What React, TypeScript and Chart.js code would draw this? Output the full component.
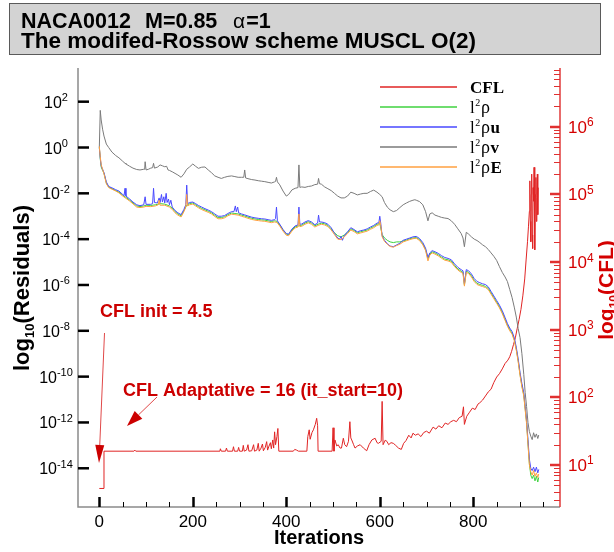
import React, { useEffect, useRef } from "react";
import { Chart, registerables } from "chart.js";

Chart.register(...registerables);

type Pt = [number, number];

// ---------------- data (iteration, log10 value) ----------------
const cflLog10: Pt[] = [
  [0, 0.653], [10, 0.653], [10, 1.204], [74, 1.204], [76, 1.22], [78, 1.204], [258, 1.204], [259, 1.24], [261, 1.204],
  [270, 1.204], [272, 1.25], [274, 1.204], [285, 1.204], [287, 1.27], [289, 1.204], [296, 1.204], [298, 1.26], [300, 1.204],
  [306, 1.204], [308, 1.29], [310, 1.204], [315, 1.22], [318, 1.3], [320, 1.204], [326, 1.21], [330, 1.3], [332, 1.204],
  [337, 1.22], [340, 1.32], [342, 1.204], [346, 1.25], [349, 1.31], [351, 1.21], [355, 1.26], [358, 1.345], [360, 1.22],
  [363, 1.28], [366, 1.33], [368, 1.24], [371, 1.37], [373, 1.25], [375, 1.49], [377, 1.3], [380, 1.42], [382, 1.54],
  [384, 1.204], [415, 1.204], [418, 1.23], [422, 1.22], [426, 1.204], [444, 1.204], [446, 1.42], [449, 1.52], [451, 1.38],
  [455, 1.48], [458, 1.52], [462, 1.6], [465, 1.69], [467, 1.58], [468, 1.204], [498, 1.204], [500, 1.55], [502, 1.204],
  [504, 1.37], [508, 1.28], [511, 1.3], [515, 1.25], [518, 1.25], [522, 1.395], [525, 1.3], [529, 1.27], [533, 1.35],
  [536, 1.64], [538, 1.4], [540, 1.37], [544, 1.3], [547, 1.25], [552, 1.28], [558, 1.3], [565, 1.25], [572, 1.21],
  [577, 1.3], [583, 1.37], [590, 1.395], [594, 1.33], [597, 1.32], [603, 1.35], [605, 1.94], [607, 1.3], [612, 1.37],
  [616, 1.34], [619, 1.3], [624, 1.33], [629, 1.32], [634, 1.29], [640, 1.25], [646, 1.23], [651, 1.32], [656, 1.36],
  [662, 1.44], [667, 1.4], [671, 1.47], [676, 1.44], [682, 1.46], [688, 1.42], [694, 1.48], [700, 1.5], [706, 1.47],
  [714, 1.56], [720, 1.53], [726, 1.58], [733, 1.55], [740, 1.62], [746, 1.6], [752, 1.64], [758, 1.66], [764, 1.64],
  [770, 1.7], [776, 1.72], [779, 1.86], [781, 1.6], [786, 1.72], [792, 1.78], [798, 1.84], [804, 1.82], [810, 1.9],
  [814, 1.92], [820, 1.96], [826, 2.02], [832, 2.08], [838, 2.12], [844, 2.22], [850, 2.3], [856, 2.35], [862, 2.42],
  [868, 2.5], [874, 2.55], [878, 2.6], [882, 2.68], [886, 2.78], [890, 2.88], [894, 3.02], [898, 3.15], [902, 3.3],
  [906, 3.5], [910, 3.75], [913, 4.03], [916, 4.3], [918, 4.52], [920, 4.75], [921, 5.2], [922, 4.6], [923, 4.3],
  [924, 5.0], [925, 5.3], [926, 4.4], [927, 4.2], [928, 5.1], [929, 4.9], [930, 5.4], [931, 4.5], [932, 4.18],
  [933, 5.0], [934, 5.25], [935, 4.6], [936, 4.95], [937, 5.3], [938, 4.7], [939, 5.1],
];

const rhoLog10: Pt[] = [
  [0, 0.0], [2, -0.5], [4, -0.85], [7, -1.0], [10, -1.12], [15, -1.55], [20, -1.72], [27, -1.8], [35, -1.88], [42, -1.95],
  [50, -2.08], [57, -2.18], [65, -2.3], [72, -2.42], [80, -2.55], [87, -2.58], [95, -2.55], [100, -2.52], [110, -2.53],
  [120, -2.5], [130, -2.45], [140, -2.47], [150, -2.55], [156, -2.65], [162, -2.8], [168, -2.9], [175, -2.98], [181, -2.75],
  [187, -2.52], [193, -2.45], [200, -2.42], [206, -2.5], [212, -2.58], [219, -2.66], [226, -2.72], [233, -2.78], [240, -2.85],
  [247, -2.96], [254, -3.06], [261, -3.06], [268, -3.02], [275, -2.93], [283, -2.86], [290, -2.88], [297, -2.9], [304, -2.95],
  [311, -2.99], [318, -3.04], [326, -3.09], [333, -3.12], [340, -3.14], [347, -3.16], [354, -3.17], [361, -3.2], [368, -3.23],
  [375, -3.2], [380, -3.22], [386, -3.38], [393, -3.6], [400, -3.78], [405, -3.8], [412, -3.6], [419, -3.46], [426, -3.42],
  [433, -3.39], [440, -3.3], [447, -3.24], [454, -3.3], [461, -3.42], [468, -3.35], [475, -3.3], [482, -3.33], [489, -3.4],
  [496, -3.55], [503, -3.72], [510, -3.85], [517, -3.9], [524, -3.82], [531, -3.7], [538, -3.55], [545, -3.62], [552, -3.72],
  [559, -3.68], [566, -3.64], [573, -3.6], [580, -3.52], [587, -3.45], [594, -3.35], [600, -3.32], [605, -3.8], [610, -3.95],
  [616, -4.05], [622, -4.12], [629, -4.15], [636, -4.12], [643, -4.12], [650, -4.08], [657, -4.04], [664, -3.98], [671, -3.95],
  [678, -3.93], [685, -4.02], [692, -4.2], [698, -4.45], [703, -4.85], [707, -4.65], [712, -4.55], [718, -4.6], [725, -4.68],
  [732, -4.78], [739, -4.87], [746, -4.9], [753, -4.96], [760, -5.15], [767, -5.3], [774, -5.4], [778, -5.45], [781, -6.0],
  [785, -5.4], [790, -5.45], [796, -5.6], [802, -5.8], [808, -5.93], [814, -5.98], [820, -6.02], [826, -6.06], [832, -6.15],
  [838, -6.35], [844, -6.55], [850, -6.75], [856, -6.95], [862, -7.2], [868, -7.5], [873, -7.75], [878, -7.95], [883, -8.1],
  [888, -8.4], [892, -8.8], [896, -9.3], [900, -9.9], [904, -10.4], [908, -10.8], [911, -11.4], [914, -12.0], [917, -12.9],
  [920, -13.8], [923, -14.3], [926, -14.45], [929, -14.3], [932, -14.55], [935, -14.35], [938, -14.6], [940, -14.4],
];

const rhoULog10: Pt[] = [
  [0, 0.0], [2, -0.45], [4, -0.8], [7, -0.95], [10, -1.1], [15, -1.5], [20, -1.7], [27, -1.76], [35, -1.84], [42, -1.9],
  [50, -2.05], [53, -2.1], [55, -1.78], [57, -2.12], [65, -2.25], [72, -2.38], [80, -2.5], [87, -2.54], [95, -2.5], [98, -2.15],
  [100, -2.48], [110, -2.48], [114, -2.45], [116, -1.78], [118, -2.4], [124, -2.42], [128, -2.2], [130, -2.4], [133, -2.05],
  [135, -2.38], [138, -2.15], [140, -2.42], [143, -2.0], [145, -2.4], [148, -2.25], [150, -2.5], [153, -2.3], [156, -2.6],
  [162, -2.75], [168, -2.85], [175, -2.93], [181, -2.7], [185, -2.5], [187, -1.64], [189, -2.45], [193, -2.4], [200, -2.38],
  [206, -2.45], [212, -2.53], [219, -2.6], [226, -2.67], [233, -2.73], [240, -2.8], [247, -2.9], [254, -3.0], [261, -3.0],
  [268, -2.97], [275, -2.88], [283, -2.8], [288, -2.8], [291, -2.55], [293, -2.8], [296, -2.6], [298, -2.85], [304, -2.9],
  [311, -2.94], [318, -2.99], [326, -3.04], [333, -3.07], [340, -3.09], [347, -3.11], [354, -3.12], [361, -3.15], [368, -3.18],
  [375, -3.15], [377, -3.1], [379, -2.6], [381, -3.2], [386, -3.35], [393, -3.58], [400, -3.76], [405, -3.78], [412, -3.56],
  [419, -3.42], [425, -3.38], [427, -2.6], [429, -3.35], [433, -3.34], [440, -3.25], [447, -3.19], [454, -3.25], [461, -3.37],
  [467, -3.3], [469, -2.95], [471, -3.25], [475, -3.25], [482, -3.28], [489, -3.35], [496, -3.5], [503, -3.75], [510, -3.95],
  [514, -4.0], [517, -3.88], [520, -4.05], [524, -3.85], [531, -3.68], [538, -3.5], [545, -3.58], [552, -3.68], [559, -3.63],
  [566, -3.6], [573, -3.55], [580, -3.47], [587, -3.4], [594, -3.3], [598, -3.28], [600, -3.0], [602, -3.3], [605, -3.85],
  [610, -4.05], [616, -4.2], [622, -4.3], [629, -4.33], [636, -4.25], [643, -4.18], [650, -4.05], [657, -4.0], [664, -3.95],
  [671, -3.9], [678, -3.88], [685, -3.97], [692, -4.15], [698, -4.4], [703, -4.8], [707, -4.6], [712, -4.5], [718, -4.55],
  [725, -4.62], [732, -4.72], [739, -4.8], [746, -4.84], [753, -4.9], [760, -5.08], [767, -5.23], [774, -5.33], [778, -5.38],
  [781, -5.95], [785, -5.33], [790, -5.38], [796, -5.52], [802, -5.72], [808, -5.85], [814, -5.9], [820, -5.95], [826, -5.98],
  [832, -6.08], [838, -6.28], [844, -6.48], [850, -6.68], [856, -6.88], [862, -7.12], [868, -7.42], [873, -7.68], [878, -7.88],
  [883, -8.03], [888, -8.33], [892, -8.72], [896, -9.22], [900, -9.82], [904, -10.3], [908, -10.7], [911, -11.3], [914, -11.9],
  [917, -12.75], [920, -13.6], [923, -14.0], [926, -14.1], [929, -13.95], [932, -14.15], [935, -13.95], [938, -14.2], [940, -14.05],
];

const rhoVLog10: Pt[] = [
  [0, 0.0], [2, 1.62], [4, 1.2], [7, 0.8], [10, 0.5], [15, 0.15], [20, 0.0], [27, -0.2], [35, -0.35], [42, -0.45], [50, -0.6],
  [55, -0.69], [57, -0.72], [65, -0.82], [72, -0.9], [80, -0.96], [87, -0.98], [95, -0.95], [97, -0.95], [98, -0.62], [100, -0.98],
  [105, -0.95], [110, -0.9], [114, -0.88], [116, -0.69], [118, -0.9], [125, -0.85], [130, -0.76], [135, -0.8], [140, -0.84],
  [144, -0.82], [147, -0.98], [150, -1.0], [156, -1.06], [162, -1.13], [168, -1.2], [175, -1.3], [181, -1.15], [187, -0.95],
  [193, -0.85], [200, -0.72], [206, -0.82], [212, -0.91], [219, -0.86], [226, -0.85], [233, -0.98], [240, -1.1], [247, -1.24],
  [254, -1.3], [261, -1.35], [268, -1.3], [275, -1.26], [283, -1.24], [290, -1.27], [297, -1.3], [304, -1.3], [309, -1.3],
  [311, -0.98], [313, -1.33], [318, -1.36], [326, -1.4], [333, -1.42], [340, -1.45], [347, -1.47], [354, -1.49], [361, -1.52],
  [368, -1.55], [375, -1.5], [377, -1.48], [379, -1.3], [381, -1.5], [386, -1.63], [393, -1.9], [400, -2.12], [405, -2.05],
  [412, -1.85], [419, -1.78], [425, -1.75], [427, -0.76], [429, -1.74], [433, -1.72], [440, -1.74], [447, -1.7], [454, -1.68],
  [461, -1.62], [467, -1.6], [469, -1.35], [471, -1.58], [475, -1.6], [482, -1.72], [489, -1.8], [496, -1.88], [503, -2.0],
  [510, -2.12], [517, -2.2], [524, -2.2], [531, -2.12], [538, -1.95], [545, -2.0], [552, -2.07], [559, -2.03], [566, -2.0],
  [573, -2.0], [580, -1.92], [587, -1.86], [594, -1.95], [600, -2.05], [605, -2.15], [610, -2.4], [616, -2.6], [622, -2.72],
  [629, -2.8], [636, -2.75], [643, -2.62], [650, -2.5], [657, -2.42], [664, -2.35], [671, -2.3], [675, -2.28], [678, -2.3],
  [685, -2.36], [692, -2.5], [698, -2.8], [703, -3.2], [707, -2.9], [712, -2.85], [718, -2.95], [725, -3.0], [732, -3.05],
  [739, -3.08], [746, -3.1], [753, -3.2], [760, -3.35], [767, -3.55], [774, -3.75], [778, -3.95], [781, -4.33], [785, -3.7],
  [790, -3.78], [796, -3.9], [802, -4.0], [808, -4.06], [814, -4.15], [820, -4.25], [826, -4.33], [832, -4.45], [838, -4.6],
  [844, -4.75], [850, -4.93], [856, -5.2], [862, -5.45], [868, -5.65], [873, -5.85], [878, -6.2], [883, -6.55], [888, -7.0],
  [892, -7.4], [896, -7.9], [900, -8.3], [904, -9.0], [908, -9.9], [911, -10.7], [914, -11.3], [917, -12.0], [920, -12.4],
  [923, -12.6], [926, -12.75], [929, -12.45], [932, -12.65], [935, -12.5], [938, -12.7], [940, -12.55],
];

const rhoELog10: Pt[] = [
  [0, 0.05], [2, -0.4], [4, -0.75], [7, -0.95], [10, -1.15], [15, -1.58], [20, -1.75], [27, -1.82], [35, -1.9], [42, -1.98],
  [50, -2.12], [57, -2.22], [65, -2.34], [72, -2.46], [80, -2.6], [87, -2.62], [95, -2.6], [100, -2.57], [110, -2.58],
  [120, -2.55], [126, -2.5], [128, -2.3], [130, -2.52], [140, -2.52], [150, -2.6], [156, -2.7], [162, -2.85], [168, -2.95],
  [175, -3.03], [181, -2.8], [185, -2.6], [187, -2.05], [189, -2.55], [193, -2.5], [200, -2.47], [206, -2.55], [212, -2.63],
  [219, -2.71], [226, -2.77], [233, -2.83], [240, -2.9], [247, -3.01], [254, -3.11], [261, -3.11], [268, -3.07], [275, -2.98],
  [283, -2.91], [290, -2.93], [297, -2.95], [304, -3.0], [311, -3.04], [318, -3.09], [326, -3.14], [333, -3.17], [340, -3.19],
  [347, -3.21], [354, -3.22], [361, -3.25], [368, -3.28], [375, -3.25], [380, -3.27], [386, -3.43], [393, -3.65], [400, -3.83],
  [405, -3.85], [412, -3.65], [419, -3.51], [425, -3.47], [427, -2.9], [429, -3.45], [433, -3.44], [440, -3.35], [447, -3.29],
  [454, -3.35], [461, -3.47], [468, -3.4], [475, -3.35], [482, -3.38], [489, -3.45], [496, -3.6], [503, -3.8], [510, -4.0],
  [517, -4.02], [524, -3.9], [531, -3.76], [538, -3.6], [545, -3.67], [552, -3.77], [559, -3.73], [566, -3.69], [573, -3.65],
  [580, -3.57], [587, -3.5], [594, -3.4], [598, -3.38], [600, -3.2], [602, -3.4], [605, -3.9], [610, -4.1], [616, -4.22],
  [622, -4.32], [629, -4.35], [636, -4.28], [643, -4.22], [650, -4.12], [657, -4.07], [664, -4.02], [671, -3.98], [678, -3.96],
  [685, -4.06], [692, -4.25], [698, -4.5], [703, -4.95], [707, -4.7], [712, -4.6], [718, -4.65], [725, -4.73], [732, -4.83],
  [739, -4.92], [746, -4.95], [753, -5.01], [760, -5.2], [767, -5.35], [774, -5.45], [778, -5.5], [781, -6.05], [785, -5.45],
  [790, -5.5], [796, -5.65], [802, -5.85], [808, -5.98], [814, -6.03], [820, -6.07], [826, -6.11], [832, -6.2], [838, -6.4],
  [844, -6.6], [850, -6.8], [856, -7.0], [862, -7.25], [868, -7.55], [873, -7.8], [878, -8.0], [883, -8.15], [888, -8.45],
  [892, -8.85], [896, -9.35], [900, -9.95], [904, -10.45], [908, -10.85], [911, -11.45], [914, -12.05], [917, -12.95],
  [920, -13.85], [923, -14.15], [926, -14.3], [929, -14.1], [932, -14.35], [935, -14.2], [938, -14.4], [940, -14.25],
];

// ---------------- axes / labels ----------------
const X_MIN = -45.6;
const X_MAX = 985.5;
const RES_LOG_MIN = -15.69;
const RES_LOG_MAX = 3.47;
const CFL_LOG_MIN = 0.379;
const CFL_LOG_MAX = 6.868;

const xMajorTicks = [0, 200, 400, 600, 800];
const xMinorStep = 50;
const resTickExps = [2, 0, -2, -4, -6, -8, -10, -12, -14];
const cflTickExps = [1, 2, 3, 4, 5, 6];

const titleLine1 = ["NACA0012", "M=0.85", "α", "=1"];
const titleLine2 = "The modifed-Rossow scheme MUSCL O(2)";
const xTitle = "Iterations";
const legendSuffixes = ["CFL", "", "u", "v", "E"];
const annotInit = "CFL init = 4.5";
const annotAdapt = "CFL Adaptative = 16 (it_start=10)";

const C_CFL = "#e02424";
const C_RHO = "#3fd23f";
const C_RHOU = "#4848ff";
const C_RHOV = "#7a7a7a";
const C_RHOE = "#ffa040";
const C_RED = "#cc0000";

const SANS = '"Liberation Sans", Arial, Helvetica, sans-serif';
const SERIF = '"Liberation Serif", "Times New Roman", serif';

const toXY = (arr: Pt[]) => arr.map(([it, e]) => ({ x: it, y: Math.pow(10, e) }));

type Seg = { t: string; f: string; dy?: number };

function richWidth(ctx: CanvasRenderingContext2D, segs: Seg[]) {
  let w = 0;
  for (const s of segs) {
    ctx.font = s.f;
    w += ctx.measureText(s.t).width;
  }
  return w;
}

function drawRich(ctx: CanvasRenderingContext2D, segs: Seg[], x: number, y: number, align: string) {
  const w = richWidth(ctx, segs);
  let cx = align === "left" ? x : align === "center" ? x - w / 2 : x - w;
  ctx.textAlign = "left";
  ctx.textBaseline = "alphabetic";
  for (const s of segs) {
    ctx.font = s.f;
    ctx.fillText(s.t, cx, y + (s.dy || 0));
    cx += ctx.measureText(s.t).width;
  }
}

function arrow(ctx: CanvasRenderingContext2D, x1: number, y1: number, x2: number, y2: number, len: number, half: number) {
  const a = Math.atan2(y2 - y1, x2 - x1);
  const bx = x2 - len * Math.cos(a);
  const by = y2 - len * Math.sin(a);
  ctx.strokeStyle = "#e04848";
  ctx.lineWidth = 1;
  ctx.beginPath();
  ctx.moveTo(x1, y1);
  ctx.lineTo(bx, by);
  ctx.stroke();
  ctx.fillStyle = C_RED;
  ctx.beginPath();
  ctx.moveTo(x2, y2);
  ctx.lineTo(bx + half * Math.sin(a), by - half * Math.cos(a));
  ctx.lineTo(bx - half * Math.sin(a), by + half * Math.cos(a));
  ctx.closePath();
  ctx.fill();
}

function pow10Label(exp: number, size: number, supSize: number): Seg[] {
  return [
    { t: "10", f: `${size}px ${SANS}` },
    { t: String(exp), f: `${supSize}px ${SANS}`, dy: -6.5 },
  ];
}

const decorPlugin = {
  id: "decor",
  afterDraw(chart: any) {
    const ctx: CanvasRenderingContext2D = chart.ctx;
    const { left, right, top, bottom } = chart.chartArea;
    const xs = chart.scales.x;
    const ys = chart.scales.y;
    const y2 = chart.scales.y2;
    const dsColors: string[] = chart.data.datasets.map((d: any) => d.borderColor);
    // legend order: CFL, rho, rho u, rho v, rho E
    const legendColors = [dsColors[4], dsColors[3], dsColors[2], dsColors[1], dsColors[0]];
    ctx.save();

    // title box
    ctx.fillStyle = "#d3d3d3";
    ctx.fillRect(9.5, 3.5, 591, 51);
    ctx.strokeStyle = "#5a5a5a";
    ctx.lineWidth = 1;
    ctx.strokeRect(9.5, 3.5, 591, 51);
    ctx.fillStyle = "#000";
    ctx.textAlign = "left";
    ctx.textBaseline = "alphabetic";
    ctx.font = `bold 21.5px ${SANS}`;
    ctx.fillText(titleLine1[0], 21, 28);
    ctx.fillText(titleLine1[1], 145, 28);
    ctx.font = `21px ${SANS}`;
    ctx.fillText(titleLine1[2], 233, 28);
    const aw = ctx.measureText(titleLine1[2]).width;
    ctx.font = `bold 21.5px ${SANS}`;
    ctx.fillText(titleLine1[3], 233 + aw + 1, 28);
    ctx.font = `bold 22.5px ${SANS}`;
    ctx.fillText(titleLine2, 21, 48);

    // axis lines
    ctx.lineWidth = 1.5;
    ctx.strokeStyle = "#8a8a8a";
    ctx.beginPath();
    ctx.moveTo(left, top);
    ctx.lineTo(left, bottom);
    ctx.lineTo(right, bottom);
    ctx.stroke();
    ctx.strokeStyle = "#e03a3a";
    ctx.beginPath();
    ctx.moveTo(right, top);
    ctx.lineTo(right, bottom);
    ctx.stroke();

    // x ticks
    ctx.strokeStyle = "#000";
    for (let v = 0; v <= X_MAX; v += xMinorStep) {
      const px = Math.round(xs.getPixelForValue(v)) + 0.5;
      const major = xMajorTicks.includes(v);
      ctx.lineWidth = major ? 2.5 : 1;
      ctx.beginPath();
      ctx.moveTo(px, bottom);
      ctx.lineTo(px, bottom - (major ? 10 : 5));
      ctx.stroke();
    }
    ctx.fillStyle = "#000";
    ctx.font = `17px ${SANS}`;
    ctx.textAlign = "center";
    for (const v of xMajorTicks) {
      ctx.fillText(String(v), xs.getPixelForValue(v), 527);
    }
    ctx.font = `bold 20px ${SANS}`;
    ctx.fillText(xTitle, (left + right) / 2, 544);

    // left ticks
    ctx.strokeStyle = "#000";
    ctx.lineWidth = 2.5;
    for (const e of resTickExps) {
      const py = ys.getPixelForValue(Math.pow(10, e));
      ctx.beginPath();
      ctx.moveTo(left, py);
      ctx.lineTo(left + 11, py);
      ctx.stroke();
      ctx.fillStyle = "#000";
      drawRich(ctx, pow10Label(e, 16, 11), 56, py + 6, "center");
    }

    // right ticks
    ctx.strokeStyle = "#e03030";
    for (let d = 0; d <= 7; d++) {
      for (let m = 1; m <= 9; m++) {
        const lv = d + Math.log10(m);
        if (lv < CFL_LOG_MIN || lv > CFL_LOG_MAX) continue;
        const py = y2.getPixelForValue(Math.pow(10, lv));
        const major = m === 1;
        ctx.lineWidth = major ? 2.5 : 1;
        ctx.beginPath();
        ctx.moveTo(right, Math.round(py) + (major ? 0 : 0.5));
        ctx.lineTo(right - (major ? 10 : 6), Math.round(py) + (major ? 0 : 0.5));
        ctx.stroke();
      }
    }
    ctx.fillStyle = "#d40000";
    for (const e of cflTickExps) {
      const py = y2.getPixelForValue(Math.pow(10, e));
      drawRich(ctx, pow10Label(e, 17, 12), 568, py + 6, "left");
    }

    // axis titles
    ctx.save();
    ctx.translate(21, 288);
    ctx.rotate(-Math.PI / 2);
    ctx.fillStyle = "#000";
    drawRich(
      ctx,
      [
        { t: "log", f: `bold 22px ${SANS}` },
        { t: "10", f: `bold 13px ${SANS}`, dy: 5 },
        { t: "(Residuals)", f: `bold 22px ${SANS}` },
      ],
      0,
      8,
      "center"
    );
    ctx.restore();
    ctx.save();
    ctx.translate(605, 290);
    ctx.rotate(-Math.PI / 2);
    ctx.fillStyle = "#d40000";
    drawRich(
      ctx,
      [
        { t: "log", f: `bold 21px ${SANS}` },
        { t: "10", f: `bold 12px ${SANS}`, dy: 5 },
        { t: "(CFL)", f: `bold 21px ${SANS}` },
      ],
      0,
      7.5,
      "center"
    );
    ctx.restore();

    // legend
    const rows = [87, 107, 127, 147, 167];
    for (let i = 0; i < rows.length; i++) {
      const y = rows[i];
      ctx.strokeStyle = legendColors[i];
      ctx.lineWidth = 1.5;
      ctx.beginPath();
      ctx.moveTo(380, y);
      ctx.lineTo(457, y);
      ctx.stroke();
      ctx.fillStyle = "#000";
      ctx.textAlign = "left";
      ctx.textBaseline = "alphabetic";
      if (i === 0) {
        ctx.font = `bold 17px ${SERIF}`;
        ctx.fillText(legendSuffixes[0], 470, y + 6);
      } else {
        ctx.font = `17px ${SERIF}`;
        ctx.fillText("l", 470, y + 6);
        const lw = ctx.measureText("l").width;
        ctx.font = `10px ${SERIF}`;
        ctx.fillText("2", 470 + lw + 0.5, y - 1);
        ctx.font = `18px ${SERIF}`;
        ctx.fillText("ρ", 481, y + 6);
        const rw = ctx.measureText("ρ").width;
        if (legendSuffixes[i]) {
          ctx.font = `bold 17px ${SERIF}`;
          ctx.fillText(legendSuffixes[i], 481 + rw + 0.5, y + 6);
        }
      }
    }

    // annotations
    ctx.fillStyle = C_RED;
    ctx.font = `bold 18px ${SANS}`;
    ctx.textAlign = "left";
    ctx.fillText(annotInit, 100, 317);
    ctx.fillText(annotAdapt, 123, 396);
    arrow(ctx, 104.5, 333, 99, 463, 18, 4.5);
    arrow(ctx, 157, 397, 127, 426, 16, 5.5);

    ctx.restore();
  },
};

export default function App() {
  const ref = useRef<HTMLCanvasElement | null>(null);

  useEffect(() => {
    const canvas = ref.current;
    if (!canvas) return;
    const common = { pointRadius: 0, borderWidth: 1, tension: 0, fill: false };
    const chart = new Chart(canvas, {
      type: "line",
      data: {
        datasets: [
          { label: "l2 rhoE", data: toXY(rhoELog10), borderColor: C_RHOE, yAxisID: "y", ...common },
          { label: "l2 rhov", data: toXY(rhoVLog10), borderColor: C_RHOV, yAxisID: "y", ...common },
          { label: "l2 rhou", data: toXY(rhoULog10), borderColor: C_RHOU, yAxisID: "y", ...common },
          { label: "l2 rho", data: toXY(rhoLog10), borderColor: C_RHO, yAxisID: "y", ...common },
          { label: "CFL", data: toXY(cflLog10), borderColor: C_CFL, yAxisID: "y2", ...common },
        ],
      },
      options: {
        responsive: false,
        animation: false,
        devicePixelRatio: 1,
        events: [],
        layout: { padding: { top: 68, left: 0, right: 0, bottom: 0 } },
        plugins: { legend: { display: false }, tooltip: { enabled: false }, title: { display: false } },
        scales: {
          x: {
            type: "linear",
            position: "bottom",
            min: X_MIN,
            max: X_MAX,
            ticks: { display: false },
            grid: { display: false, drawTicks: false },
            border: { display: false },
            afterFit: (s: any) => {
              s.height = 45;
            },
          },
          y: {
            type: "logarithmic",
            position: "left",
            min: Math.pow(10, RES_LOG_MIN),
            max: Math.pow(10, RES_LOG_MAX),
            ticks: { display: false },
            grid: { display: false, drawTicks: false },
            border: { display: false },
            afterFit: (s: any) => {
              s.width = 78;
            },
          },
          y2: {
            type: "logarithmic",
            position: "right",
            min: Math.pow(10, CFL_LOG_MIN),
            max: Math.pow(10, CFL_LOG_MAX),
            ticks: { display: false },
            grid: { display: false, drawTicks: false },
            border: { display: false },
            afterFit: (s: any) => {
              s.width = 54;
            },
          },
        },
      } as any,
      plugins: [decorPlugin],
    });
    return () => chart.destroy();
  }, []);

  return (
    <div style={{ position: "fixed", left: 0, top: 0, width: 614, height: 552, background: "#fff" }}>
      <canvas ref={ref} width={614} height={552} style={{ display: "block", width: 614, height: 552 }} />
    </div>
  );
}
